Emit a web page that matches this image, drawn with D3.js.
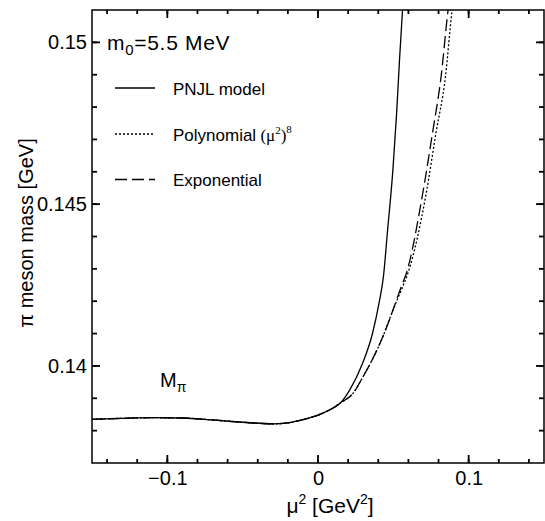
<!DOCTYPE html>
<html>
<head>
<meta charset="utf-8">
<script src="https://cdn.jsdelivr.net/npm/d3@7"></script>
<style>
  body { margin: 0; background: #fff; }
  text { font-family: "Liberation Sans", Arial, sans-serif; fill: #000; }
</style>
</head>
<body>
<div class="canvas"></div>
<script>
// shared low-mu part (all three curves coincide)
const muCommon = [-0.15, -0.13, -0.11, -0.09, -0.07, -0.05, -0.03, -0.02, -0.01, 0, 0.005, 0.01, 0.015];
const mCommon = [0.13835, 0.13838, 0.13840, 0.13839, 0.13833, 0.13826, 0.13821, 0.13824, 0.13834, 0.13848, 0.13858, 0.13870, 0.13886];

// PNJL model (solid)
const muPnjl = [0.021, 0.0296, 0.0362, 0.0405, 0.0434, 0.0462, 0.0497, 0.0521, 0.0541, 0.0561, 0.0575];
const mPnjl = [0.13925, 0.14008, 0.14101, 0.14194, 0.14275, 0.14420, 0.14605, 0.14775, 0.14945, 0.15100, 0.1521];

// exponential fit (dashed)
const muExp = [0.0232, 0.0298, 0.0364, 0.0430, 0.0497, 0.0552, 0.0587, 0.0695, 0.0760, 0.0817, 0.0862, 0.0875];
const mExp = [0.13915, 0.13966, 0.14023, 0.14090, 0.14172, 0.14244, 0.14287, 0.14533, 0.14720, 0.14894, 0.15094, 0.1514];

// polynomial (mu^2)^8 fit (dotted)
const muPoly = [0.0232, 0.0298, 0.0364, 0.0430, 0.0497, 0.0561, 0.0597, 0.0718, 0.0783, 0.0846, 0.0889, 0.0903];
const mPoly = [0.13915, 0.13966, 0.14023, 0.14090, 0.14172, 0.14244, 0.14287, 0.14533, 0.14720, 0.14894, 0.15094, 0.1514];

const xMajor = [-0.1, 0, 0.1];
const xLabels = ['\u22120.1', '0', '0.1'];
const yMajor = [0.14, 0.145, 0.15];
const yLabels = ['0.14', '0.145', '0.15'];

const legendNames = ['PNJL model', 'Polynomial', 'Exponential'];
const legendDash = [null, '2,2', '12,5'];

const width = 545, height = 521;
const plot = { left: 92, right: 544, top: 10, bottom: 463 };

const svg = d3.select('.canvas')
  .append('svg')
  .attr('width', width)
  .attr('height', height);

const x = d3.scaleLinear().domain([-0.15, 0.15]).range([plot.left, plot.right]);
const y = d3.scaleLinear().domain([0.137, 0.151]).range([plot.bottom, plot.top]);

const xMinor = d3.range(-7, 8).map(i => i * 0.02);
const yMinor = d3.range(138, 151).map(i => i / 1000);

// tick marks, all pointing inwards
const tickG = svg.append('g').attr('class', 'ticks');
const tick = (x1, y1, x2, y2) => tickG.append('line')
  .attr('x1', x1).attr('y1', y1).attr('x2', x2).attr('y2', y2)
  .attr('stroke', '#000').attr('stroke-width', 1.8);
xMinor.forEach(v => { tick(x(v), plot.bottom, x(v), plot.bottom - 4); tick(x(v), plot.top, x(v), plot.top + 4); });
xMajor.forEach(v => { tick(x(v), plot.bottom, x(v), plot.bottom - 8); tick(x(v), plot.top, x(v), plot.top + 8); });
yMinor.forEach(v => { tick(plot.left, y(v), plot.left + 5, y(v)); tick(plot.right, y(v), plot.right - 5, y(v)); });
yMajor.forEach(v => { tick(plot.left, y(v), plot.left + 8, y(v)); tick(plot.right, y(v), plot.right - 8, y(v)); });

// tick labels
svg.append('g').attr('transform', `translate(0,${plot.bottom})`)
  .call(d3.axisBottom(x).tickValues(xMajor).tickFormat((d, i) => xLabels[i]).tickSize(0).tickPadding(8))
  .call(g => g.select('.domain').remove())
  .selectAll('text').style('font-size', '20px').style('font-family', '"Liberation Sans", Arial, sans-serif');

svg.append('g').attr('transform', `translate(${plot.left},0)`)
  .call(d3.axisLeft(y).tickValues(yMajor).tickFormat((d, i) => yLabels[i]).tickSize(0).tickPadding(5))
  .call(g => g.select('.domain').remove())
  .selectAll('text').style('font-size', '20px').style('font-family', '"Liberation Sans", Arial, sans-serif');

// frame
svg.append('rect')
  .attr('x', plot.left).attr('y', plot.top)
  .attr('width', plot.right - plot.left).attr('height', plot.bottom - plot.top)
  .attr('fill', 'none').attr('stroke', '#000').attr('stroke-width', 1.5);

svg.append('clipPath').attr('id', 'clip')
  .append('rect')
  .attr('x', plot.left).attr('y', plot.top)
  .attr('width', plot.right - plot.left).attr('height', plot.bottom - plot.top);

const line = d3.line()
  .x(d => x(d[0]))
  .y(d => y(d[1]))
  .curve(d3.curveMonotoneX);

const zip = (a, b) => a.map((v, i) => [v, b[i]]);
const series = [
  { pts: zip(muCommon, mCommon).concat(zip(muPnjl, mPnjl)), dash: null },
  { pts: zip(muCommon, mCommon).concat(zip(muPoly, mPoly)), dash: '2,2' },
  { pts: zip(muCommon, mCommon).concat(zip(muExp, mExp)), dash: '12,5' }
];

svg.append('g')
  .attr('clip-path', 'url(#clip)')
  .selectAll('path')
  .data(series)
  .enter()
  .append('path')
  .attr('d', d => line(d.pts))
  .attr('fill', 'none')
  .attr('stroke', '#000')
  .attr('stroke-width', 1.3)
  .attr('stroke-dasharray', d => d.dash);

// m0 label
const m0 = svg.append('text').attr('x', 107).attr('y', 50)
  .style('font-size', '21px').style('letter-spacing', '0.7px');
m0.append('tspan').text('m');
m0.append('tspan').attr('dy', 5).style('font-size', '15px').text('0');
m0.append('tspan').attr('dy', -5).text('=5.5 MeV');

// legend
const legendY = [88, 134, 179.5];
legendNames.forEach((name, i) => {
  svg.append('line')
    .attr('x1', 115).attr('x2', 155)
    .attr('y1', legendY[i]).attr('y2', legendY[i])
    .attr('stroke', '#000').attr('stroke-width', 1.3)
    .attr('stroke-dasharray', legendDash[i]);
  const t = svg.append('text')
    .attr('x', 173).attr('y', legendY[i] + 6.5)
    .style('font-size', '17px')
    .text(name);
  if (i === 1) {
    const s = t.append('tspan').style('font-family', '"Liberation Serif", "Times New Roman", serif');
    s.append('tspan').text(' (\u03bc');
    s.append('tspan').attr('dy', -7).style('font-size', '11px').text('2');
    s.append('tspan').attr('dy', 7).text(')');
    s.append('tspan').attr('dy', -8).style('font-size', '11px').text('8');
  }
});

// M_pi
const mpi = svg.append('text').attr('x', 160).attr('y', 387).style('font-size', '20px');
mpi.append('tspan').text('M');
mpi.append('tspan').attr('dy', 5).style('font-size', '14px').text('\u03c0');

// axis titles
const xt = svg.append('text')
  .attr('x', 330).attr('y', 513)
  .attr('text-anchor', 'middle')
  .style('font-size', '21px');
xt.append('tspan').text('\u03bc');
xt.append('tspan').attr('dy', -9).style('font-size', '14px').text('2');
xt.append('tspan').attr('dy', 9).text(' [GeV');
xt.append('tspan').attr('dy', -9).style('font-size', '14px').text('2');
xt.append('tspan').attr('dy', 9).text(']');

svg.append('text')
  .attr('transform', 'translate(33,233) rotate(-90)')
  .attr('text-anchor', 'middle')
  .style('font-size', '20px')
  .text('\u03c0 meson mass [GeV]');
</script>
</body>
</html>
